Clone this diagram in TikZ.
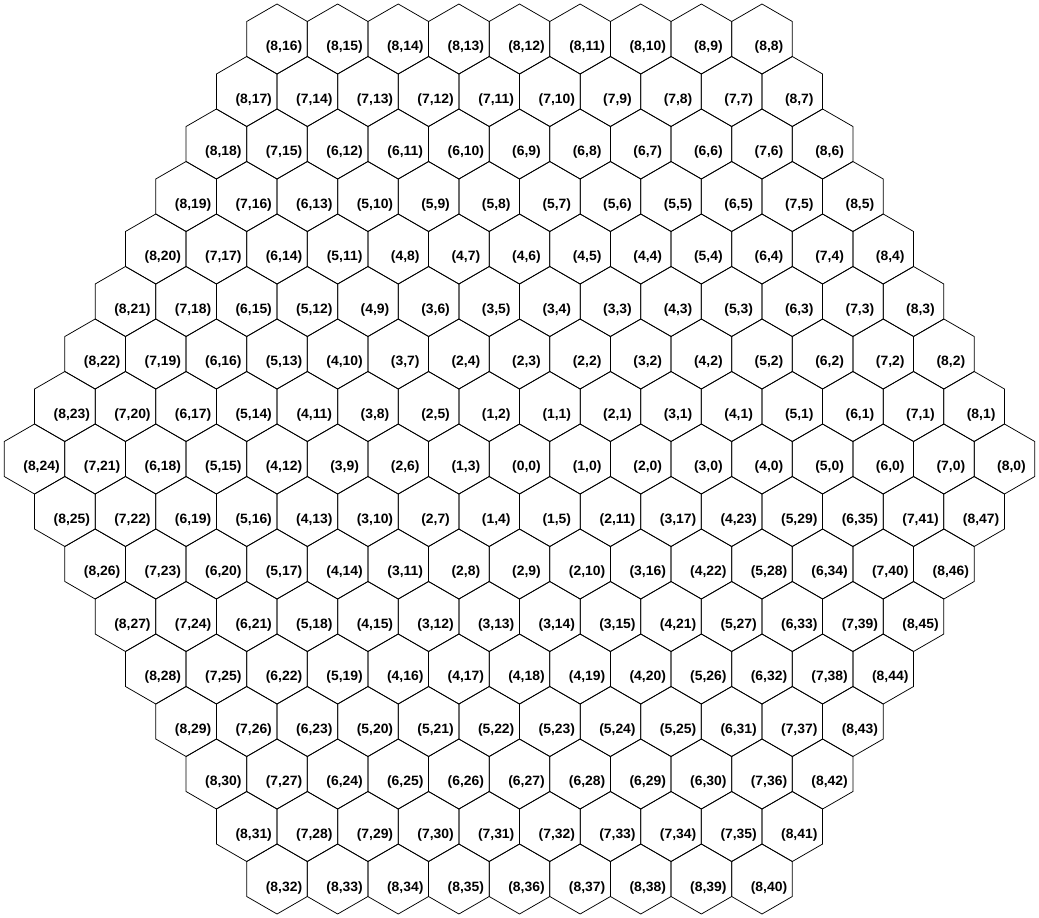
\documentclass[tikz,border=0pt]{standalone}
\usepackage{fontspec}
\setmainfont{Liberation Sans}[FakeStretch=1.03]
\begin{document}
\begin{tikzpicture}[x=1pt,y=-1pt,
  hexcell/.style={draw=black,line width=0.75pt},
  lbl/.style={font=\fontsize{13.5}{13.5}\selectfont\bfseries,inner sep=0pt}]
\useasboundingbox (0,0) rectangle (1039,918);
\def\cellat#1#2#3#4{%
  \pgfmathsetmacro\cx{519.5+(#1)*30.31}%
  \pgfmathsetmacro\cy{459+(#2)*52.5}%
  \draw[hexcell] (\cx,\cy) +(90:35) -- +(30:35) -- +(-30:35) -- +(-90:35) -- +(-150:35) -- +(150:35) -- cycle;
  \node[lbl] (h-#3-#4) at (\cx+7,\cy+8.5) {(#3,#4)};
}
\cellat{0}{0}{0}{0}
\foreach \r in {1,...,8}{
  \foreach \s/\ax/\ay/\dx/\dy in {0/2/0/-1/-1, 1/1/-1/-2/0, 2/-1/-1/-1/1, 3/-2/0/1/1, 4/-1/1/2/0, 5/1/1/1/-1}{
    \pgfmathtruncatemacro\rmax{\r-1}
    \foreach \k in {0,...,\rmax}{
      \pgfmathtruncatemacro\X{(\ax)*\r+\k*(\dx)}
      \pgfmathtruncatemacro\Y{(\ay)*\r+\k*(\dy)}
      \pgfmathtruncatemacro\I{\s*\r+\k}
      \cellat{\X}{\Y}{\r}{\I}
    }
  }
}
\end{tikzpicture}
\end{document}
